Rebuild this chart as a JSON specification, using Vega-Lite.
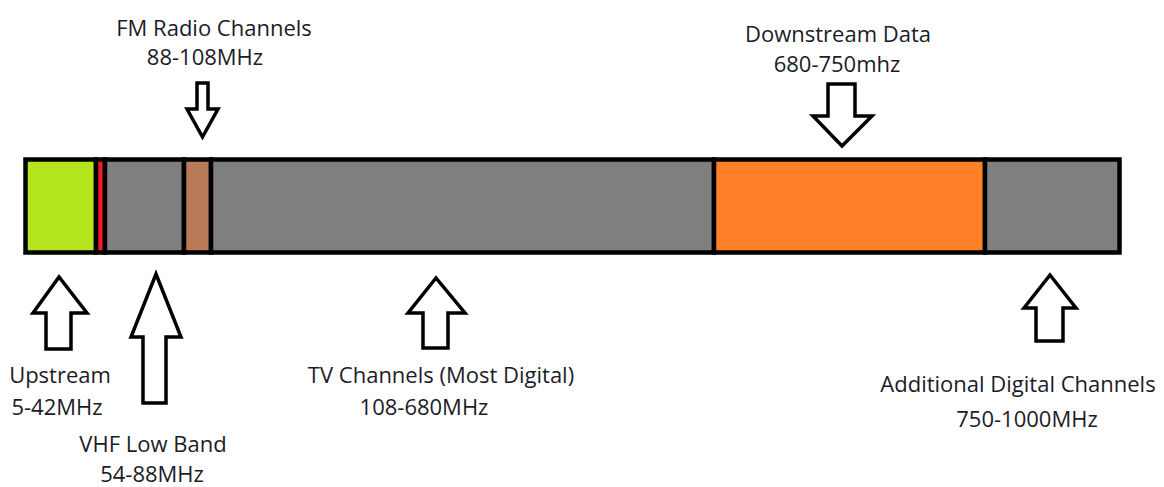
{
  "$schema": "https://vega.github.io/schema/vega-lite/v6.json",
  "width": 1164,
  "height": 487,
  "autosize": {"type": "fit", "contains": "padding"},
  "padding": 0,
  "background": "white",
  "config": {"view": {"stroke": null}},
  "datasets": {
    "bands": [
      {"band": "Upstream", "start": 25.5, "end": 96, "top": 159.5, "bottom": 252.5},
      {"band": "Guard", "start": 96, "end": 105, "top": 159.5, "bottom": 252.5},
      {"band": "VHF Low Band", "start": 105, "end": 184, "top": 159.5, "bottom": 252.5},
      {"band": "FM Radio", "start": 184, "end": 211, "top": 159.5, "bottom": 252.5},
      {"band": "TV Channels", "start": 211, "end": 714, "top": 159.5, "bottom": 252.5},
      {"band": "Downstream Data", "start": 714, "end": 985, "top": 159.5, "bottom": 252.5},
      {"band": "Additional Digital", "start": 985, "end": 1119.5, "top": 159.5, "bottom": 252.5}
    ],
    "arrows": [
      {"arrow": "FM", "i": 0, "x": 202.5, "y": 83},
      {"arrow": "FM", "i": 1, "x": 208, "y": 83},
      {"arrow": "FM", "i": 2, "x": 208, "y": 109},
      {"arrow": "FM", "i": 3, "x": 218, "y": 109},
      {"arrow": "FM", "i": 4, "x": 202.5, "y": 137},
      {"arrow": "FM", "i": 5, "x": 187, "y": 109},
      {"arrow": "FM", "i": 6, "x": 197, "y": 109},
      {"arrow": "FM", "i": 7, "x": 197, "y": 83},
      {"arrow": "FM", "i": 8, "x": 202.5, "y": 83},
      {"arrow": "Down", "i": 0, "x": 841.5, "y": 84},
      {"arrow": "Down", "i": 1, "x": 855, "y": 84},
      {"arrow": "Down", "i": 2, "x": 855, "y": 116},
      {"arrow": "Down", "i": 3, "x": 872, "y": 116},
      {"arrow": "Down", "i": 4, "x": 842, "y": 146},
      {"arrow": "Down", "i": 5, "x": 813, "y": 116},
      {"arrow": "Down", "i": 6, "x": 828, "y": 116},
      {"arrow": "Down", "i": 7, "x": 828, "y": 84},
      {"arrow": "Down", "i": 8, "x": 841.5, "y": 84},
      {"arrow": "Up", "i": 0, "x": 58.5, "y": 349},
      {"arrow": "Up", "i": 1, "x": 71, "y": 349},
      {"arrow": "Up", "i": 2, "x": 71, "y": 313},
      {"arrow": "Up", "i": 3, "x": 87, "y": 313},
      {"arrow": "Up", "i": 4, "x": 59, "y": 277},
      {"arrow": "Up", "i": 5, "x": 33, "y": 313},
      {"arrow": "Up", "i": 6, "x": 46, "y": 313},
      {"arrow": "Up", "i": 7, "x": 46, "y": 349},
      {"arrow": "Up", "i": 8, "x": 58.5, "y": 349},
      {"arrow": "VHF", "i": 0, "x": 154.5, "y": 403},
      {"arrow": "VHF", "i": 1, "x": 166, "y": 403},
      {"arrow": "VHF", "i": 2, "x": 166, "y": 337},
      {"arrow": "VHF", "i": 3, "x": 181, "y": 337},
      {"arrow": "VHF", "i": 4, "x": 156, "y": 274},
      {"arrow": "VHF", "i": 5, "x": 131, "y": 337},
      {"arrow": "VHF", "i": 6, "x": 143, "y": 337},
      {"arrow": "VHF", "i": 7, "x": 143, "y": 403},
      {"arrow": "VHF", "i": 8, "x": 154.5, "y": 403},
      {"arrow": "TV", "i": 0, "x": 435.5, "y": 348},
      {"arrow": "TV", "i": 1, "x": 448, "y": 348},
      {"arrow": "TV", "i": 2, "x": 448, "y": 313},
      {"arrow": "TV", "i": 3, "x": 465, "y": 313},
      {"arrow": "TV", "i": 4, "x": 436, "y": 278},
      {"arrow": "TV", "i": 5, "x": 408, "y": 313},
      {"arrow": "TV", "i": 6, "x": 423, "y": 313},
      {"arrow": "TV", "i": 7, "x": 423, "y": 348},
      {"arrow": "TV", "i": 8, "x": 435.5, "y": 348},
      {"arrow": "Add", "i": 0, "x": 1049.5, "y": 341},
      {"arrow": "Add", "i": 1, "x": 1063, "y": 341},
      {"arrow": "Add", "i": 2, "x": 1063, "y": 308},
      {"arrow": "Add", "i": 3, "x": 1076, "y": 308},
      {"arrow": "Add", "i": 4, "x": 1050, "y": 275},
      {"arrow": "Add", "i": 5, "x": 1024, "y": 308},
      {"arrow": "Add", "i": 6, "x": 1036, "y": 308},
      {"arrow": "Add", "i": 7, "x": 1036, "y": 341},
      {"arrow": "Add", "i": 8, "x": 1049.5, "y": 341}
    ],
    "labels": [
      {"text": "FM Radio Channels", "x": 214, "y": 36},
      {"text": "88-108MHz", "x": 205, "y": 65},
      {"text": "Downstream Data", "x": 838, "y": 42},
      {"text": "680-750mhz", "x": 837, "y": 72},
      {"text": "Upstream", "x": 60, "y": 383},
      {"text": "5-42MHz", "x": 57, "y": 415},
      {"text": "VHF Low Band", "x": 153, "y": 452},
      {"text": "54-88MHz", "x": 152, "y": 482},
      {"text": "TV Channels (Most Digital)", "x": 441, "y": 383},
      {"text": "108-680MHz", "x": 424, "y": 415},
      {"text": "Additional Digital Channels", "x": 1018, "y": 392},
      {"text": "750-1000MHz", "x": 1027, "y": 427}
    ]
  },
  "layer": [
    {
      "data": {"name": "bands"},
      "mark": {"type": "rect", "stroke": "black", "strokeWidth": 4.5, "opacity": 1},
      "encoding": {
        "x": {"field": "start", "type": "quantitative", "scale": {"domain": [0, 1164], "nice": false, "zero": false}, "axis": null},
        "x2": {"field": "end"},
        "y": {"field": "top", "type": "quantitative", "scale": {"domain": [0, 487], "nice": false, "zero": false, "reverse": true}, "axis": null},
        "y2": {"field": "bottom"},
        "color": {
          "field": "band", "type": "nominal", "legend": null,
          "scale": {
            "domain": ["Upstream", "Guard", "VHF Low Band", "FM Radio", "TV Channels", "Downstream Data", "Additional Digital"],
            "range": ["#b5e61d", "#ed1c24", "#7f7f7f", "#b97a57", "#7f7f7f", "#ff7f27", "#7f7f7f"]
          }
        }
      }
    },
    {
      "data": {"name": "arrows"},
      "mark": {"type": "line", "stroke": "black", "strokeWidth": 3.5, "strokeJoin": "miter", "strokeMiterLimit": 10},
      "encoding": {
        "x": {"field": "x", "type": "quantitative"},
        "y": {"field": "y", "type": "quantitative"},
        "detail": {"field": "arrow", "type": "nominal"},
        "order": {"field": "i", "type": "quantitative"}
      }
    },
    {
      "data": {"name": "labels"},
      "mark": {"type": "text", "font": "Open Sans", "fontSize": 22, "align": "center", "baseline": "alphabetic", "color": "#1c1c28"},
      "encoding": {
        "x": {"field": "x", "type": "quantitative"},
        "y": {"field": "y", "type": "quantitative"},
        "text": {"field": "text", "type": "nominal"}
      }
    }
  ]
}
